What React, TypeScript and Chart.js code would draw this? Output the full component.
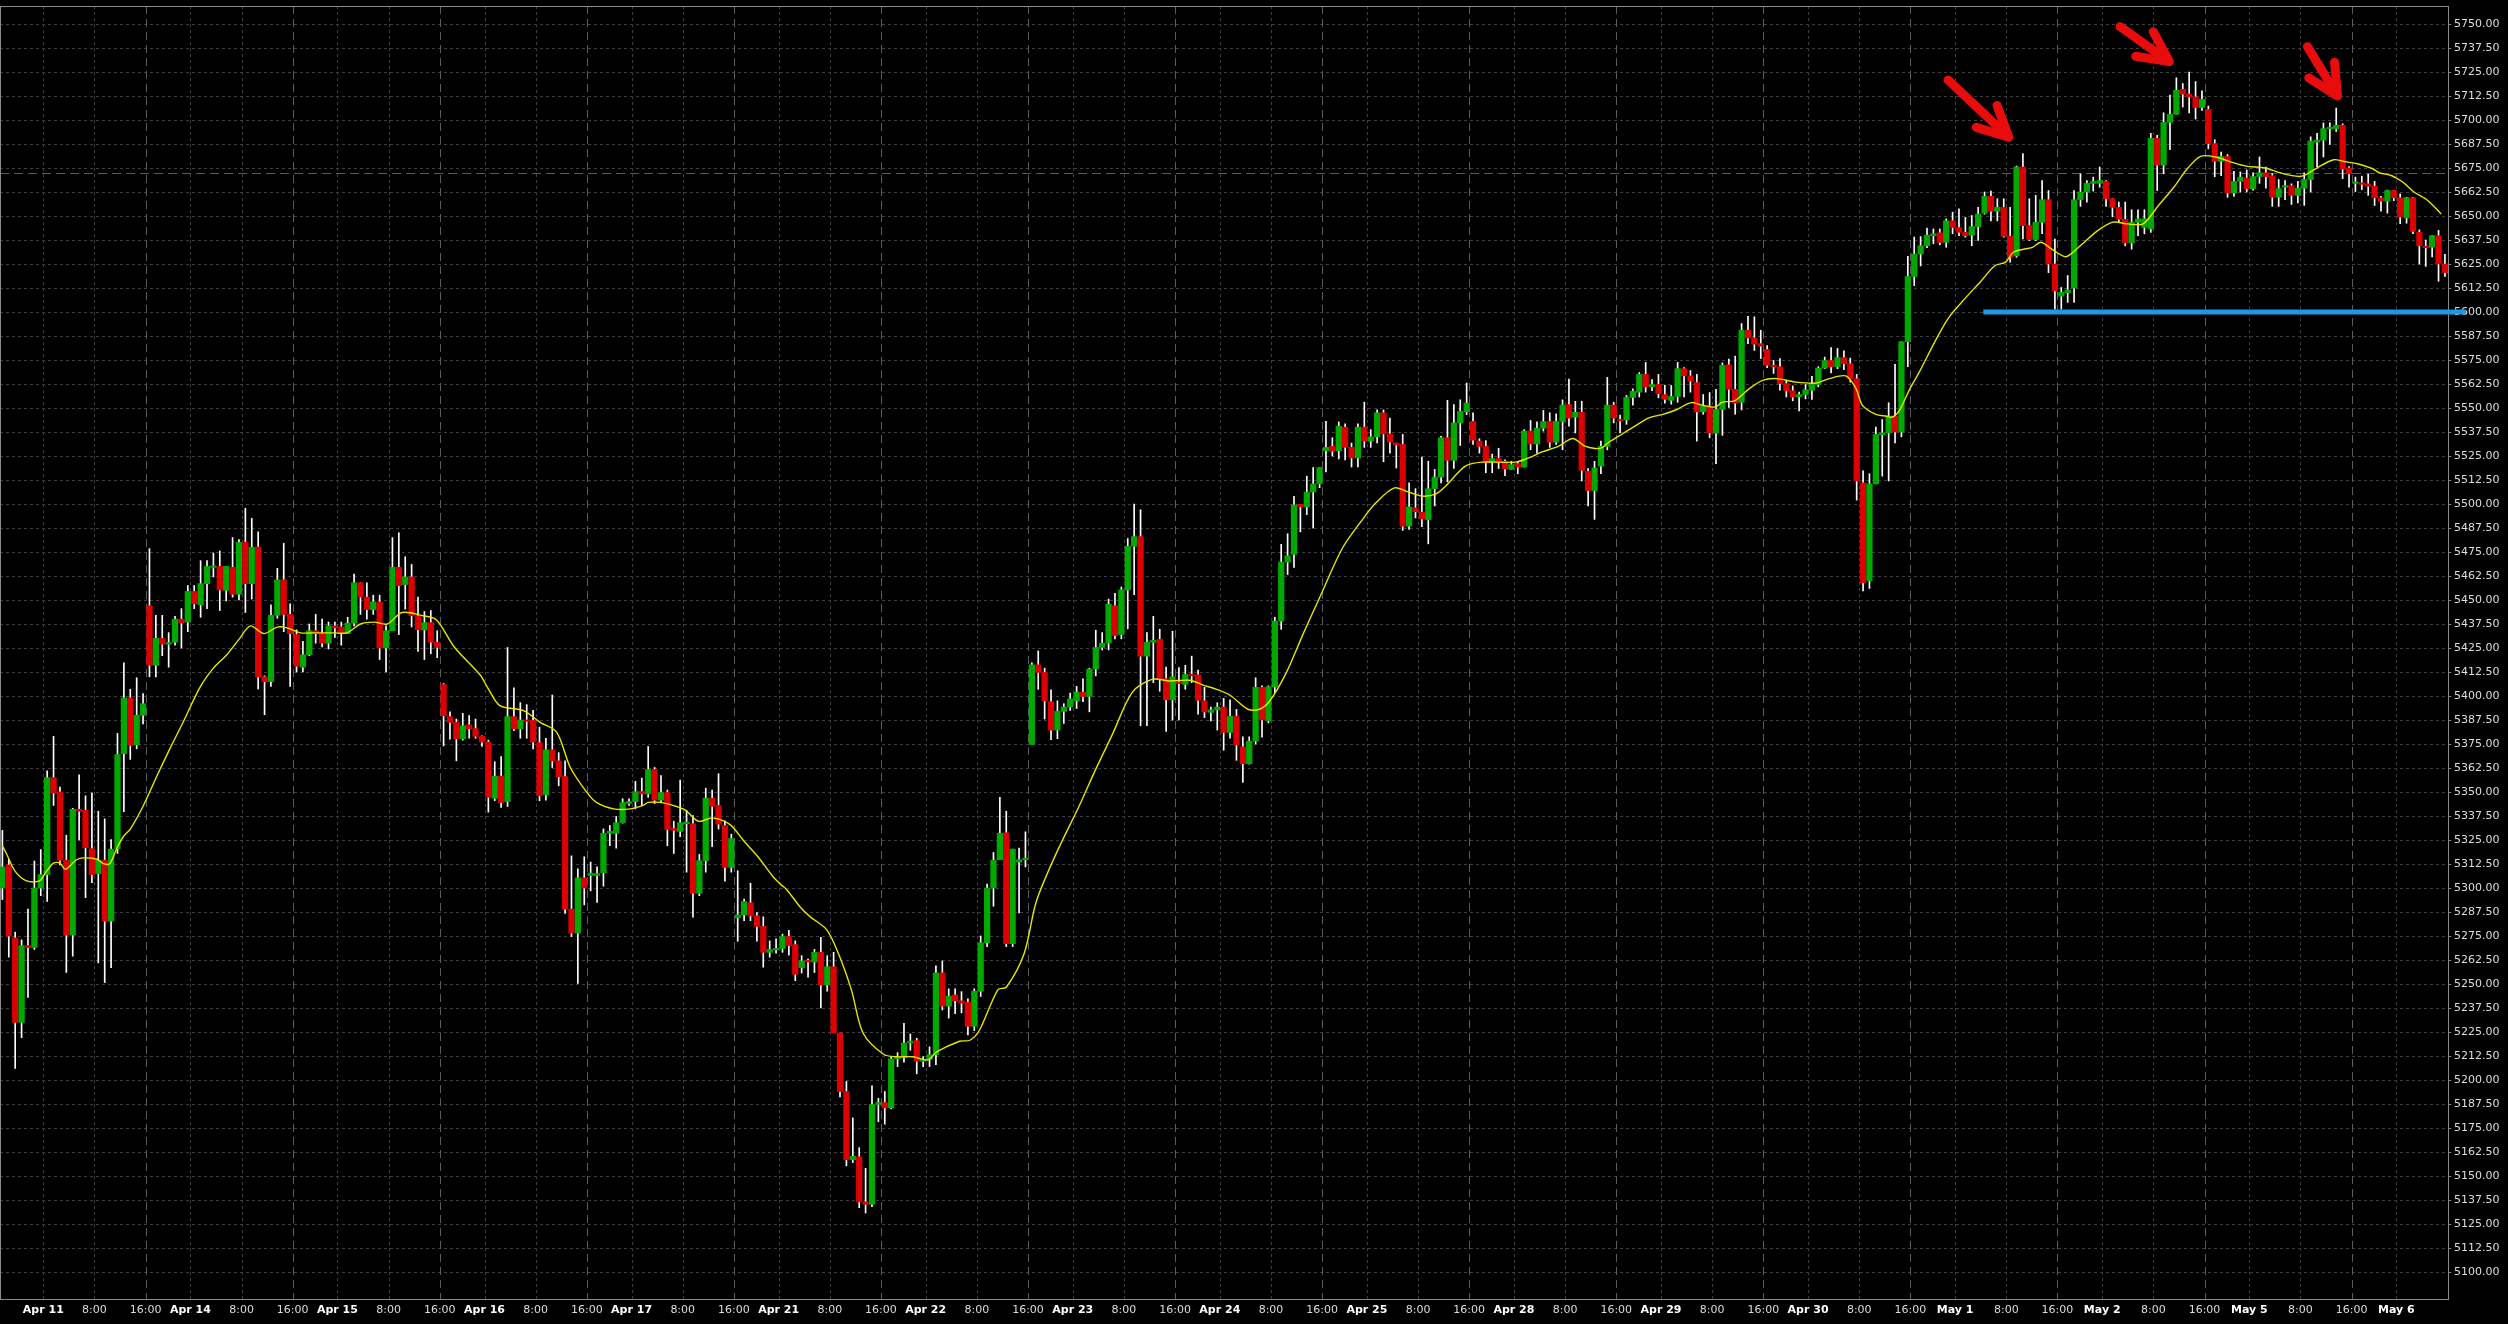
import { useEffect, useRef } from "react";
import { Chart, registerables } from "chart.js";

Chart.register(...registerables);

// ---------------- data (hourly candles, bar index 0..382) ----------------
const OPEN = [
  5300, 5312, 5274, 5230, 5270, 5269, 5300, 5307, 5357.5, 5350,
  5314.5, 5275.5, 5341, 5340.5, 5320.5, 5307.5, 5314.5, 5282.75, 5320.5, 5370,
  5399, 5374.5, 5390, 5447, 5416, 5430, 5427, 5428, 5440, 5438.5,
  5454.5, 5447.5, 5458.5, 5467, 5467.5, 5455, 5467, 5453, 5480, 5458.5,
  5477.5, 5410, 5407.5, 5442, 5460.5, 5442.5, 5432, 5415, 5421.5, 5434,
  5432.5, 5427.5, 5436.5, 5436, 5432.5, 5438, 5459, 5451.5, 5445, 5449,
  5425, 5434, 5467, 5458, 5462, 5441.75, 5434.5, 5438.25, 5428, 5406,
  5389.25, 5386.25, 5377.75, 5385, 5383, 5379, 5376, 5346.75, 5358.25, 5345,
  5389.25, 5383, 5387.5, 5387.25, 5375.75, 5348.5, 5372, 5366.25, 5358, 5289,
  5276.5, 5305.25, 5306.5, 5306.5, 5308, 5328.5, 5328.5, 5334, 5344, 5345,
  5350.25, 5349, 5361.75, 5345.75, 5349.75, 5331, 5329.5, 5333.5, 5333.5, 5297.25,
  5314.25, 5346.75, 5343, 5332.5, 5310.75, 5284.5, 5286, 5292.25, 5285.5, 5280,
  5266.5, 5267.75, 5268.5, 5274.75, 5270.5, 5258.5, 5262, 5261.5, 5266.5, 5249.5,
  5259, 5224.5, 5194, 5158.5, 5160, 5136.5, 5135.25, 5187.25, 5188.25, 5185.5,
  5211, 5211.75, 5219.25, 5220.5, 5209.75, 5210.75, 5213.25, 5255.75, 5238.5, 5244.25,
  5241.25, 5240.5, 5228, 5246.25, 5271.5, 5300, 5314.75, 5328.75, 5271, 5313.5,
  5314.75, 5374.75, 5416.25, 5412.25, 5397, 5382.25, 5392, 5394.25, 5397.5, 5402,
  5399.75, 5414, 5425.25, 5427.5, 5447, 5432, 5455.25, 5478, 5483, 5420.75,
  5428, 5429.5, 5409, 5398, 5407.25, 5406, 5411.25, 5411, 5397.5, 5391.5,
  5392.75, 5394.25, 5381, 5389.5, 5373.5, 5364.75, 5376.5, 5404.5, 5387, 5404.75,
  5439, 5469.75, 5473.75, 5499.75, 5498.5, 5506.25, 5510.5, 5527.75, 5530, 5527.75,
  5540, 5529.5, 5524, 5540, 5532.75, 5535, 5547.5, 5536.5, 5531.75, 5531,
  5488.5, 5498, 5495.75, 5491.75, 5508, 5514, 5534.5, 5522.75, 5542.25, 5548,
  5543, 5532.75, 5530, 5521.75, 5523.75, 5522.25, 5518, 5521, 5519.25, 5538,
  5531.25, 5539.5, 5543, 5532.25, 5543, 5551.75, 5545.25, 5547.75, 5517, 5507,
  5519.75, 5530, 5551.5, 5544, 5543.75, 5555.5, 5558.25, 5567.5, 5561, 5562.25,
  5557, 5554, 5556, 5570.5, 5566.75, 5563.25, 5548, 5551, 5537, 5549.25,
  5572.5, 5559.75, 5553, 5590.5, 5586.5, 5583.5, 5580.5, 5572.25, 5571.5, 5562.75,
  5559, 5555.75, 5557, 5559.25, 5562.25, 5570.75, 5574.75, 5571.5, 5576.25, 5573,
  5565.25, 5511, 5460, 5510.5, 5536, 5537, 5545.75, 5537.5, 5584.5, 5618.5,
  5630.25, 5634.5, 5639.75, 5641.25, 5636.25, 5647.5, 5644, 5641.5, 5640, 5644.5,
  5651.5, 5660.25, 5652.5, 5654.5, 5639.5, 5629.25, 5675.5, 5645, 5637.75, 5646.75,
  5658.5, 5625, 5608.25, 5610, 5612.5, 5658.5, 5662.5, 5667, 5667, 5668,
  5659, 5654.5, 5648.25, 5636, 5646.75, 5644, 5643.25, 5690.5, 5676.5, 5698.75,
  5703, 5716, 5713.5, 5712, 5706.5, 5705.5, 5687.75, 5678.5, 5681, 5662,
  5668, 5669.75, 5664.25, 5670.5, 5672.5, 5671, 5659.75, 5665, 5665.75, 5660.75,
  5664.5, 5669, 5688.5, 5689.5, 5695.5, 5695.5, 5697.25, 5675, 5667, 5667.25,
  5666.75, 5665.5, 5659.5, 5657.75, 5663.25, 5659.5, 5649, 5659.5, 5641.5, 5634,
  5633.75, 5639.75, 5625,
];

const HIGH = [
  5330, 5315, 5277, 5273, 5289, 5314, 5320, 5361, 5379, 5352.5,
  5327.5, 5341.5, 5359, 5348, 5349.5, 5340, 5336, 5325.25, 5380.5, 5417.25,
  5403.5, 5409.5, 5401.25, 5476.75, 5442, 5442, 5433, 5441.5, 5445.5, 5457.5,
  5457.5, 5470.5, 5470.5, 5474.5, 5475.5, 5467.5, 5482.5, 5481.5, 5497.75, 5492.5,
  5485.5, 5410.5, 5447.5, 5466.5, 5479.5, 5448, 5434.5, 5428.5, 5437.5, 5442.5,
  5440, 5438.5, 5438.5, 5438.5, 5441, 5463.5, 5459, 5459, 5452.5, 5452.5,
  5436.5, 5482.5, 5485, 5472.5, 5468.5, 5451.5, 5444, 5444.5, 5434, 5406.5,
  5391.75, 5388, 5391, 5389.75, 5388, 5379.25, 5377, 5365.75, 5368.5, 5425.25,
  5404.25, 5396.5, 5395.5, 5392.5, 5383.75, 5378, 5400.5, 5370.5, 5366.25, 5316.75,
  5310, 5316.25, 5313.5, 5311, 5330.75, 5332.5, 5337.25, 5346.5, 5346.5, 5355.5,
  5357.25, 5373.75, 5362.75, 5358.5, 5351, 5334.75, 5356.25, 5340.5, 5337.75, 5317.5,
  5352, 5351, 5359.5, 5335, 5328, 5309, 5294.25, 5302.5, 5287.25, 5285,
  5272.5, 5273.5, 5276, 5278, 5272.5, 5264.75, 5263, 5268, 5274.25, 5264.75,
  5266.5, 5224.5, 5199.25, 5180.25, 5164.75, 5154, 5197, 5190.5, 5194, 5212,
  5214.25, 5229.5, 5224, 5221.75, 5212.25, 5217.25, 5259.5, 5262, 5247.5, 5247.5,
  5246, 5242.25, 5247.5, 5275, 5302, 5318.5, 5347.25, 5340, 5320.25, 5320.75,
  5329.25, 5417.25, 5423.5, 5414.5, 5403.25, 5397.5, 5396, 5401.5, 5405, 5409,
  5414.5, 5434.25, 5433, 5450.5, 5453.5, 5456.75, 5482, 5500, 5497, 5433,
  5441.5, 5434.75, 5415, 5433.75, 5414.75, 5416, 5420.75, 5413.5, 5404.5, 5394.25,
  5396.5, 5398.75, 5398, 5393, 5378.75, 5378.75, 5409.5, 5405.25, 5405.25, 5441,
  5479, 5484.5, 5504, 5499.75, 5514.5, 5519, 5519, 5543, 5534.5, 5542.75,
  5541.75, 5531.75, 5541.75, 5553, 5538.75, 5549, 5549, 5544.75, 5531.75, 5536.25,
  5511, 5508, 5524.5, 5522.25, 5518, 5535.25, 5554, 5551.75, 5554.25, 5563,
  5547.5, 5534, 5533, 5526, 5529, 5523, 5522.25, 5521.75, 5538.75, 5543.5,
  5542.75, 5548.75, 5547.5, 5547, 5554.25, 5565, 5553.5, 5553.5, 5518.5, 5522.25,
  5532.75, 5566, 5553, 5546.25, 5556.5, 5560, 5568.5, 5573.75, 5564.75, 5567.5,
  5561.75, 5561.75, 5573.75, 5571, 5569.5, 5567.5, 5557, 5558, 5559.75, 5573.5,
  5575.5, 5577, 5594, 5597.75, 5597.5, 5590.5, 5582.5, 5574.75, 5575.75, 5564.5,
  5561.5, 5558.25, 5562.25, 5566.5, 5571.5, 5576.5, 5581.5, 5581, 5579.75, 5576,
  5567.5, 5517.25, 5515.75, 5540, 5544, 5552.75, 5572.75, 5584.5, 5629, 5639,
  5639.25, 5643.75, 5643.25, 5643.25, 5648.5, 5652, 5653.75, 5649.25, 5650.25, 5654.5,
  5662.5, 5663, 5659, 5659, 5654.5, 5676, 5682.5, 5659, 5660.75, 5668.5,
  5663.25, 5638, 5612.75, 5619, 5663.25, 5672, 5668.5, 5670.25, 5675.5, 5668.5,
  5659, 5657.25, 5657.25, 5653.25, 5653.25, 5653.25, 5693, 5692, 5703.75, 5713,
  5722, 5719, 5725, 5720, 5715.25, 5707.25, 5689.75, 5683.25, 5682, 5673.25,
  5673, 5674, 5672.5, 5680.75, 5675.5, 5672, 5669, 5668.5, 5666.75, 5668,
  5672.5, 5691.25, 5693, 5698.5, 5698.5, 5706.25, 5698, 5675.75, 5670.25, 5670.75,
  5671.75, 5668, 5660.25, 5663.5, 5663.25, 5661.5, 5659.75, 5659.75, 5642.75, 5637.5,
  5639.75, 5642.5, 5630,
];

const LOW = [
  5294, 5264, 5206, 5222, 5243, 5268, 5296, 5293, 5343, 5312,
  5256, 5264.5, 5325, 5295, 5302.75, 5261, 5250.75, 5258.5, 5318, 5339.75,
  5367, 5372.5, 5385.5, 5410, 5410, 5421, 5415, 5426.5, 5425, 5433.5,
  5445.5, 5441, 5445.5, 5462, 5444.5, 5449.5, 5451.5, 5450, 5443.5, 5450.5,
  5403.75, 5390.25, 5405, 5440.5, 5433.5, 5405, 5412.5, 5412.5, 5421, 5427.5,
  5425.5, 5424.5, 5430.5, 5426.5, 5432.5, 5436.5, 5442.5, 5440, 5442.5, 5419,
  5412.5, 5434, 5432, 5445.25, 5436, 5423.25, 5419, 5422, 5420, 5374,
  5377.5, 5366.25, 5377, 5378, 5378, 5373.75, 5339.5, 5345.5, 5342, 5342.5,
  5382, 5378, 5378, 5372.5, 5345.5, 5345.75, 5362.75, 5353.25, 5286.75, 5274.75,
  5250.25, 5291.25, 5298.5, 5292.5, 5301, 5322, 5320.75, 5333.75, 5343, 5341.25,
  5343, 5347.25, 5344, 5344.5, 5322, 5318, 5326.75, 5308.25, 5284.75, 5296,
  5308.25, 5321.5, 5330.75, 5303.5, 5308.25, 5272.25, 5283, 5283, 5272.25, 5258.75,
  5264, 5266, 5266.5, 5265, 5251.75, 5255.75, 5253.5, 5256, 5237.5, 5246.25,
  5224.5, 5191.25, 5155.25, 5157, 5133.5, 5130.75, 5134, 5178.25, 5177, 5185,
  5207, 5209.25, 5215.5, 5203.25, 5207, 5207, 5208, 5236.5, 5232.25, 5234.5,
  5235, 5223.5, 5225.75, 5243.5, 5269.5, 5290.5, 5314.75, 5269.5, 5269.5, 5287,
  5311, 5374.75, 5403.5, 5388, 5377.25, 5377.75, 5385.75, 5392.5, 5393.5, 5397,
  5391.75, 5410.5, 5424, 5424, 5429.75, 5429.75, 5435, 5452.75, 5384.5, 5384.5,
  5407, 5402.5, 5381.5, 5387.5, 5387.5, 5403.5, 5407, 5390.5, 5388.75, 5387,
  5382.25, 5371.75, 5378, 5366.5, 5355, 5364.5, 5375, 5378.5, 5386, 5401.75,
  5434.75, 5463.25, 5467, 5485.5, 5494.5, 5487.5, 5508.5, 5516.75, 5525, 5523.5,
  5523, 5519.25, 5519.25, 5529.5, 5529.5, 5531.75, 5522, 5526.5, 5518.75, 5486.25,
  5486.75, 5492.75, 5488.25, 5479.25, 5499, 5511, 5511.5, 5518.5, 5530.5, 5546.5,
  5531, 5526.5, 5516.25, 5516.25, 5518.5, 5514.75, 5518, 5515.75, 5519.25, 5528.25,
  5526.5, 5538, 5529.5, 5531, 5528.25, 5540.5, 5537, 5512, 5499, 5492,
  5515.75, 5528.25, 5542.25, 5537, 5541.5, 5551.5, 5555.75, 5558.25, 5559, 5555.25,
  5552.5, 5552, 5553, 5555.75, 5558.25, 5532.75, 5546.75, 5534.5, 5521, 5535.75,
  5550.25, 5546.75, 5549, 5583.5, 5580, 5575.75, 5571, 5568, 5559.25, 5555.75,
  5553.75, 5548.5, 5554.75, 5554.5, 5561, 5570.5, 5568.25, 5570.5, 5570, 5563.5,
  5502, 5454.75, 5456, 5510.5, 5514.5, 5512, 5531.75, 5535, 5571.5, 5613.75,
  5624, 5633.5, 5635.5, 5635, 5633.75, 5640.75, 5639.75, 5639, 5634.5, 5637.25,
  5651, 5647.5, 5647.5, 5639, 5626, 5628.5, 5638, 5637.25, 5637.25, 5640.75,
  5620.5, 5601.5, 5601.5, 5605, 5605, 5655, 5657.25, 5663, 5665, 5655,
  5649.5, 5646.75, 5634.5, 5632.75, 5639.75, 5640.75, 5641.5, 5663.25, 5672, 5684.5,
  5703, 5706.75, 5703.75, 5700.5, 5705, 5685, 5670.5, 5671, 5659.75, 5660.25,
  5662.5, 5662.5, 5663.5, 5667, 5664.5, 5655, 5655, 5658.5, 5656, 5656.75,
  5655.5, 5662.5, 5675.75, 5680.75, 5687.25, 5694, 5669.5, 5665, 5662.75, 5663.75,
  5660.75, 5655.5, 5652.5, 5651.5, 5658, 5646, 5646.25, 5640.75, 5625, 5623.75,
  5628.75, 5616, 5618.5,
];

const CLOSE = [
  5311, 5275, 5230, 5270, 5269, 5300, 5307, 5357.5, 5349.5, 5314.5,
  5275.5, 5341, 5340, 5321, 5307, 5314.5, 5282.75, 5320.25, 5369.5, 5399,
  5374.25, 5390, 5396, 5416, 5430, 5427, 5427.5, 5440, 5438, 5454.5,
  5448, 5458.5, 5467.5, 5467.5, 5455.25, 5467.5, 5453, 5480, 5458.5, 5477.5,
  5410, 5407.5, 5442, 5460.5, 5442.5, 5432.5, 5415.5, 5421.5, 5434, 5432.5,
  5427.5, 5436.5, 5435.5, 5432.5, 5438, 5459, 5451.5, 5445, 5449, 5425,
  5434, 5467, 5457.5, 5462, 5441.75, 5434.5, 5438.25, 5428, 5425.25, 5389.75,
  5386.25, 5377.75, 5384.5, 5383, 5379, 5376, 5347.25, 5358.25, 5344.5, 5389.25,
  5383, 5387.5, 5386.75, 5376, 5348, 5372, 5366.25, 5358, 5289, 5276.5,
  5305.25, 5300, 5307.75, 5307.5, 5328.5, 5329.5, 5334, 5344.5, 5345, 5350.25,
  5349, 5361.75, 5345.75, 5349.75, 5330.5, 5330, 5334, 5333.5, 5297.25, 5314.25,
  5346.75, 5342.5, 5333.25, 5310.75, 5325.75, 5286, 5293, 5285.5, 5280, 5266.5,
  5268, 5268.5, 5274.75, 5270, 5255, 5262, 5261.5, 5266.5, 5249.5, 5259,
  5224.5, 5194, 5158.5, 5160.25, 5136.5, 5135.25, 5187.25, 5188.25, 5185.5, 5211,
  5211.75, 5219.25, 5220.25, 5209.75, 5210.75, 5213.25, 5255.75, 5238.5, 5243.75, 5241.25,
  5240, 5228, 5246.25, 5271.5, 5300, 5314.5, 5328.5, 5271, 5320.25, 5314.75,
  5315.5, 5416.25, 5412.25, 5397.5, 5382.25, 5392, 5394.25, 5398.5, 5402, 5399.75,
  5414, 5425.25, 5427.5, 5447.75, 5431.5, 5455.25, 5478, 5483, 5420.75, 5428,
  5429, 5409, 5398, 5410, 5406.5, 5411.25, 5410.5, 5397.75, 5391.75, 5392.75,
  5394.25, 5381, 5389.5, 5374.5, 5364.75, 5376.5, 5404.5, 5387.5, 5404.75, 5439,
  5469.75, 5473, 5499.5, 5498.5, 5506.25, 5510.5, 5519, 5529.5, 5527.5, 5540.5,
  5529.5, 5524, 5540, 5532.75, 5535, 5547.5, 5536.5, 5532.25, 5530.75, 5488.5,
  5498.5, 5496, 5492.25, 5508, 5514, 5534.5, 5522.75, 5542.25, 5548.25, 5552.5,
  5533.25, 5530, 5521.75, 5523.75, 5521.75, 5518.25, 5520.5, 5519.25, 5538, 5531.25,
  5539.5, 5543, 5532.25, 5543, 5551.5, 5544.75, 5547.75, 5517.5, 5507, 5518.75,
  5530, 5551.5, 5544.75, 5543.25, 5555.5, 5558.75, 5567.5, 5561, 5562.25, 5557.5,
  5554.5, 5556, 5570.5, 5566.75, 5564, 5548, 5551, 5537, 5549.25, 5572.25,
  5559.75, 5552.5, 5590.5, 5586.5, 5583.25, 5582.25, 5572.25, 5571.5, 5562.75, 5559,
  5555.75, 5557, 5559.5, 5562.75, 5570.75, 5574.75, 5571.5, 5576.25, 5573, 5565.25,
  5512, 5459, 5510.5, 5536.25, 5537, 5545.75, 5537.5, 5584.5, 5618.5, 5630.25,
  5634.5, 5640, 5640.75, 5636.25, 5647.5, 5644, 5641.5, 5639.75, 5644.5, 5651,
  5660.25, 5652.5, 5654.5, 5639.5, 5628.5, 5675.5, 5645, 5637.75, 5646.75, 5658.5,
  5625, 5611, 5610.25, 5611.5, 5658.5, 5662.5, 5667, 5668, 5668.5, 5659,
  5654.5, 5648.25, 5636, 5646.75, 5648.5, 5648.5, 5690.5, 5676.5, 5698.75, 5703,
  5715.5, 5713.5, 5712, 5706.5, 5710.75, 5687.75, 5678.5, 5681, 5662, 5668,
  5670.25, 5664.25, 5670.5, 5672.5, 5670.5, 5659.75, 5664.25, 5665.75, 5660.75, 5664.5,
  5669, 5689, 5689.5, 5695.5, 5696, 5697.25, 5674.5, 5672, 5667.75, 5666.5,
  5665.5, 5659.5, 5657.75, 5663.25, 5659.5, 5649.5, 5659.5, 5642, 5634.5, 5633.5,
  5639.75, 5625, 5620.5,
];

// moving-average line (bar index, price)
const MA_BAR = [
  0, 0.66, 2, 3.8, 5.8, 6.9, 8, 9, 9.85, 11.6, 12.7, 14.8, 15.8, 16.8, 17.9, 18.9, 20, 22,
  24.2, 26.2, 28.3, 30.9, 33, 35.1, 37, 38.8, 40.9, 43, 44.5, 46.6, 48.7, 51.8, 53.9, 56,
  58.1, 60.2, 62.5, 65.8, 67.9, 70.7, 74.7, 76, 77.8, 81.5, 84.1, 86.7, 88.8, 91.4, 92.9,
  95.6, 98.2, 100.3, 101, 102.9, 105, 106.8, 108.9, 111, 113.8, 115.9, 118, 120.6, 121.7,
  122.7, 124.8, 126.3, 128.9, 130.75, 132.8, 134.6, 137.8, 139.8, 142.4, 144.8, 146.1,
  149.7, 151.3, 152.8, 155.7, 157, 159.8, 161.7, 164.8, 168.4, 171, 173.6, 176.7, 179.8,
  182.6, 185.7, 187.8, 189.9, 192, 194.8, 196.6, 198.2, 200.8, 203.4, 206, 209.6, 212.7,
  214.8, 217.7, 220, 222.1, 224.2, 225.7, 228.8, 231.4, 236.6, 238.7, 240.8, 243.4, 245.6,
  247.5, 249.1, 250.1, 251.3, 253.4, 255.5, 257.6, 259.7, 261.8, 264.1, 265.9, 267.9, 269,
  270.9, 273.2, 275.3, 277.4, 280.5, 283.6, 285.7, 288.3, 289.9, 290.9, 293, 294.6, 295.6,
  296.7, 298.2, 299.8, 302.3, 304.4, 307.1, 309.5, 311.6, 313.3, 314.5, 316.3, 317.5,
  318.8, 320.5, 322.7, 324.7, 327.7, 330.1, 332.4, 334.8, 337.2, 339.6, 341.7, 343.8,
  346.2, 348.6, 350.9, 353.9, 356.3, 359.2, 360.5, 362.2, 364.6, 366.2, 368.3, 370.7,
  371.8, 373.6, 375.4, 377.2, 379.3, 381.4,
];
const MA_VALUE = [
  5322, 5317.7, 5308.7, 5303.7, 5303.7, 5308.7, 5313, 5313, 5309.7, 5314.7, 5315.7, 5315, 5312.7, 5312.7, 5320.7, 5326.7, 5330.7, 5342.6,
  5358.6, 5372.6, 5386.6, 5404.5, 5414.5, 5421.5, 5429.5, 5436.5, 5432.5, 5435.9, 5435.5, 5432.9, 5432.9, 5432.9, 5432.9, 5437.5,
  5438.5, 5437.5, 5443.5, 5441.8, 5439.6, 5425.4, 5411.1, 5403.7, 5395, 5392.4, 5386.3, 5381.1, 5362.9, 5349.8, 5344.6,
  5341.2, 5341.2, 5343.2, 5344.6, 5344.6, 5342.9, 5340.6, 5334.7, 5336.5, 5333, 5324.7, 5316.9, 5305.6, 5302,
  5299, 5290, 5285.1, 5278.3, 5265.9, 5246.7, 5224.5, 5213.4, 5212.1, 5212.1, 5210.5, 5214.6,
  5220.2, 5220.7, 5225.9, 5247.1, 5248.3, 5265.9, 5293, 5317.9, 5342.7, 5361.9, 5380, 5401.9, 5408.7,
  5407.8, 5408.2, 5405.7, 5403.5, 5400.4, 5393.1, 5393.1, 5397.4, 5412.2, 5432.1, 5451.2, 5477.2, 5491.9,
  5500.6, 5508.4, 5506.1, 5504.1, 5505.3, 5509.3, 5519.7, 5521.8, 5521.8, 5524, 5527.1, 5530.1, 5534.1,
  5530.1, 5528.9, 5529.2, 5532.3, 5536.6, 5541, 5545, 5546.7, 5549.1, 5552.8, 5551.4, 5550.5, 5553.1,
  5553.7, 5560.1, 5564.4, 5565.3, 5563.5, 5563, 5565.3, 5566.7, 5560.1, 5551.4, 5546.7, 5545.8, 5545.3,
  5548.8, 5559.2, 5568.8, 5585, 5597.1, 5607.6, 5616.3, 5624.1, 5626, 5631.1, 5632.8, 5633.7,
  5636.3, 5632.8, 5628.8, 5633.7, 5642.4, 5646.8, 5645.9, 5645.9, 5655.5, 5665, 5674.6, 5681.1,
  5680.7, 5678.1, 5676, 5675, 5672.4, 5670.6, 5672, 5675.5, 5679.3, 5678.4, 5677.2, 5674.6,
  5672.4, 5671.1, 5667.7, 5662.4, 5658.1, 5651.1,
];

// annotations
const SUPPORT_LEVEL = 5600;
const SUPPORT_FROM_BAR = 309.8;
const SUPPORT_TO_BAR = 385.3;
const REFERENCE_LEVEL = 5672.2;
const ARROW_TAIL_BAR = [304.3, 331.2, 360.5];
const ARROW_TAIL_PRICE = [5720.8, 5748.6, 5738.2];
const ARROW_TIP_BAR = [313.8, 338.9, 365.2];
const ARROW_TIP_PRICE = [5691, 5730.4, 5712.5];

// axis labels
const DAY_LABELS = [
  "Apr 11", "Apr 14", "Apr 15", "Apr 16", "Apr 17", "Apr 21", "Apr 22", "Apr 23", "Apr 24",
  "Apr 25", "Apr 28", "Apr 29", "Apr 30", "May 1", "May 2", "May 5", "May 6",
];
const HOUR_LABELS = ["8:00", "16:00"];
const Y_TICKS = [
  5100, 5112.5, 5125, 5137.5, 5150, 5162.5, 5175, 5187.5, 5200, 5212.5, 5225, 5237.5,
  5250, 5262.5, 5275, 5287.5, 5300, 5312.5, 5325, 5337.5, 5350, 5362.5, 5375, 5387.5,
  5400, 5412.5, 5425, 5437.5, 5450, 5462.5, 5475, 5487.5, 5500, 5512.5, 5525, 5537.5,
  5550, 5562.5, 5575, 5587.5, 5600, 5612.5, 5625, 5637.5, 5650, 5662.5, 5675, 5687.5,
  5700, 5712.5, 5725, 5737.5, 5750,
];

// ---------------- layout / style ----------------
const W = 2508;
const H = 1324;
const X_MIN = -0.375;
const X_MAX = 382.48;
const Y_MIN = 5085.94;
const Y_MAX = 5759.375;
const FIRST_DAY_BAR = 6.4;
const BARS_PER_DAY = 23;
const HOUR_OFFSETS = [0, 8, 16];

const GREEN = "#00a800";
const RED = "#dc0000";
const YELLOW = "#e6e600";
const BLUE = "#1c98e8";
const ARROW_RED = "#e80c0c";
const FONT = "DejaVu Sans";

type XTick = { value: number; label: string; major: boolean; session: boolean };

function buildXTicks(): XTick[] {
  const out: XTick[] = [];
  DAY_LABELS.forEach((lab, d) => {
    HOUR_OFFSETS.forEach((h, j) => {
      const v = FIRST_DAY_BAR + BARS_PER_DAY * d + h;
      if (v > X_MAX - 3) return;
      out.push({ value: v, label: j === 0 ? lab : HOUR_LABELS[j - 1], major: j === 0, session: j === 2 });
    });
  });
  return out;
}

export default function App() {
  const ref = useRef<HTMLCanvasElement | null>(null);

  useEffect(() => {
    document.body.style.margin = "0";
    document.body.style.background = "#000";
    const canvas = ref.current;
    if (!canvas) return;
    const xTicks = buildXTicks();
    const idx = OPEN.map((_, i) => i);
    const bodyData = idx.map((i) => ({ x: i, y: [OPEN[i], CLOSE[i]] }));
    const wickData = idx.map((i) => ({ x: i, y: [LOW[i], HIGH[i]] }));
    const bodyColors = idx.map((i) => (CLOSE[i] >= OPEN[i] ? GREEN : RED));

    const backdrop = {
      id: "backdrop",
      beforeDraw(chart: any) {
        const c = chart.ctx;
        c.save();
        c.fillStyle = "#000";
        c.fillRect(0, 0, chart.width, chart.height);
        c.restore();
      },
      beforeDatasetsDraw(chart: any) {
        const c = chart.ctx;
        const a = chart.chartArea;
        const xs = chart.scales.x;
        const ys = chart.scales.y;
        c.save();
        c.lineWidth = 1;
        // horizontal grid
        c.strokeStyle = "#3e3e3e";
        c.setLineDash([3, 3]);
        Y_TICKS.forEach((v) => {
          const y = Math.round(ys.getPixelForValue(v)) + 0.5;
          c.beginPath();
          c.moveTo(a.left, y);
          c.lineTo(a.right, y);
          c.stroke();
        });
        // vertical grid
        xTicks.forEach((t) => {
          const x = Math.round(xs.getPixelForValue(t.value)) + 0.5;
          c.strokeStyle = t.session ? "#5c5c5c" : "#3e3e3e";
          c.setLineDash(t.session ? [8, 5] : [3, 3]);
          c.beginPath();
          c.moveTo(x, a.top);
          c.lineTo(x, a.bottom);
          c.stroke();
        });
        // reference dashed level
        c.strokeStyle = "#5a5a5a";
        c.setLineDash([9, 5]);
        const ry = Math.round(ys.getPixelForValue(REFERENCE_LEVEL)) + 0.5;
        c.beginPath();
        c.moveTo(a.left, ry);
        c.lineTo(a.right, ry);
        c.stroke();
        // frame
        c.setLineDash([]);
        c.strokeStyle = "#8a8a8a";
        c.strokeRect(a.left + 0.5, a.top + 0.5, a.right - a.left, a.bottom - a.top);
        c.restore();
      },
      afterDatasetsDraw(chart: any) {
        const c = chart.ctx;
        const xs = chart.scales.x;
        const ys = chart.scales.y;
        c.save();
        c.strokeStyle = ARROW_RED;
        c.lineWidth = 9;
        c.lineCap = "round";
        c.lineJoin = "round";
        ARROW_TAIL_BAR.forEach((_, i) => {
          const x1 = xs.getPixelForValue(ARROW_TAIL_BAR[i]);
          const y1 = ys.getPixelForValue(ARROW_TAIL_PRICE[i]);
          const x2 = xs.getPixelForValue(ARROW_TIP_BAR[i]);
          const y2 = ys.getPixelForValue(ARROW_TIP_PRICE[i]);
          const ang = Math.atan2(y2 - y1, x2 - x1);
          const len = 34;
          const spread = 0.46;
          c.beginPath();
          c.moveTo(x1, y1);
          c.lineTo(x2 - 4 * Math.cos(ang), y2 - 4 * Math.sin(ang));
          c.stroke();
          c.beginPath();
          c.moveTo(x2 - len * Math.cos(ang - spread), y2 - len * Math.sin(ang - spread));
          c.lineTo(x2, y2);
          c.lineTo(x2 - len * Math.cos(ang + spread), y2 - len * Math.sin(ang + spread));
          c.stroke();
        });
        c.restore();
      },
    };

    const chart = new Chart(canvas, {
      type: "bar",
      data: {
        datasets: [
          {
            type: "line",
            label: "support",
            data: [
              { x: SUPPORT_FROM_BAR, y: SUPPORT_LEVEL },
              { x: SUPPORT_TO_BAR, y: SUPPORT_LEVEL },
            ],
            borderColor: BLUE,
            borderWidth: 5,
            pointRadius: 0,
            clip: false,
            order: 0,
          } as any,
          {
            type: "line",
            label: "ma",
            data: MA_BAR.map((x, i) => ({ x, y: MA_VALUE[i] })),
            borderColor: YELLOW,
            borderWidth: 1.4,
            pointRadius: 0,
            tension: 0.3,
            order: 1,
          } as any,
          {
            type: "bar",
            label: "body",
            data: bodyData,
            backgroundColor: bodyColors,
            borderWidth: 0,
            barThickness: 5.6,
            minBarLength: 1.5,
            grouped: false,
            order: 2,
          } as any,
          {
            type: "bar",
            label: "wick",
            data: wickData,
            backgroundColor: "#ffffff",
            borderWidth: 0,
            barThickness: 1,
            grouped: false,
            order: 3,
          } as any,
        ],
      },
      options: {
        animation: false,
        responsive: false,
        devicePixelRatio: 1,
        layout: { padding: { left: 0, top: 6, right: 0, bottom: 0 } },
        plugins: { legend: { display: false }, tooltip: { enabled: false } },
        scales: {
          x: {
            type: "linear",
            min: X_MIN,
            max: X_MAX,
            offset: false,
            position: "bottom",
            grid: { display: false, drawTicks: false, offset: false },
            border: { display: false },
            afterBuildTicks: (s: any) => {
              s.ticks = xTicks.map((t) => ({ value: t.value }));
            },
            afterFit: (s: any) => {
              s.height = 25;
              s.paddingLeft = 0;
              s.paddingRight = 0;
            },
            ticks: {
              autoSkip: false,
              maxRotation: 0,
              minRotation: 0,
              padding: 5,
              callback: (_v: any, i: number) => (xTicks[i] ? xTicks[i].label : ""),
              color: (ctx: any) => (xTicks[ctx.index] && xTicks[ctx.index].major ? "#ffffff" : "#dddddd"),
              font: (ctx: any) => ({
                family: FONT,
                size: 11,
                weight: xTicks[ctx.index] && xTicks[ctx.index].major ? "bold" : "normal",
              }),
            },
          },
          y: {
            type: "linear",
            position: "right",
            min: Y_MIN,
            max: Y_MAX,
            grid: { display: true, drawOnChartArea: false, drawTicks: true, tickLength: 3, color: "#8a8a8a" },
            border: { display: false },
            afterBuildTicks: (s: any) => {
              s.ticks = Y_TICKS.map((v) => ({ value: v }));
            },
            afterFit: (s: any) => {
              s.width = 60;
              s.paddingTop = 0;
              s.paddingBottom = 0;
            },
            ticks: {
              padding: 3,
              color: "#dddddd",
              font: { family: FONT, size: 11 },
              callback: (v: any) => Number(v).toFixed(2),
            },
          },
        } as any,
      },
      plugins: [backdrop],
    } as any);

    return () => chart.destroy();
  }, []);

  return (
    <div style={{ position: "fixed", left: 0, top: 0, width: W, height: H, background: "#000" }}>
      <canvas ref={ref} width={W} height={H} style={{ display: "block" }} />
    </div>
  );
}
